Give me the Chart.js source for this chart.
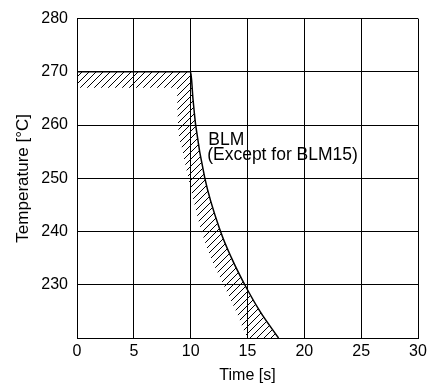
<!DOCTYPE html>
<html>
<head>
<meta charset="utf-8">
<script src="https://cdn.jsdelivr.net/npm/chart.js@4.4.1/dist/chart.umd.min.js"></script>
<style>
  html, body { margin: 0; padding: 0; background: #fff; }
  #wrap { width: 432px; height: 389px; }
</style>
</head>
<body>
<div id="wrap"><canvas id="tempChart"></canvas></div>
<script>
// BLM temperature profile
const curveTime = [0, 10, 10.2, 10.44, 11.25, 12.63, 13.6, 14.76, 16.1, 17.73];
const curveTemp = [270, 270, 265, 260, 250, 240, 235, 230, 225, 220];

// lower edge of the hatched band
const hatchTime = [0, 8.8, 8.85, 9.2, 9.8, 10.35, 10.96, 11.8, 12.9, 14.0, 15.2, 17.73];
const hatchTemp = [267, 267, 262, 256, 250, 245, 240, 235, 230, 225, 220, 220];

const xTicks = [0, 5, 10, 15, 20, 25, 30];
const yTicks = [230, 240, 250, 260, 270, 280];

const labelText = ['BLM', '(Except for BLM15)'];

function toPoints(xs, ys) {
	return xs.map((x, i) => ({ x: x, y: ys[i] }));
}

// diagonal hatch pattern "/"
function makeHatch() {
	const s = 7;
	const c = document.createElement('canvas');
	c.width = s;
	c.height = s;
	const g = c.getContext('2d');
	g.strokeStyle = '#000';
	g.lineWidth = 1;
	g.beginPath();
	g.moveTo(-1, s + 1);
	g.lineTo(s + 1, -1);
	g.moveTo(-2, 2);
	g.lineTo(2, -2);
	g.moveTo(s - 2, s + 2);
	g.lineTo(s + 2, s - 2);
	g.stroke();
	return g.createPattern(c, 'repeat');
}

const family = "'Liberation Sans', Arial, sans-serif";
const tickFont = { family: family, size: 16 };

const notes = {
	id: 'notes',
	afterDatasetsDraw(chart) {
		const ctx = chart.ctx;
		const xs = chart.scales.x, ys = chart.scales.y;
		ctx.save();
		ctx.fillStyle = '#000';
		ctx.font = '17.5px ' + family;
		ctx.textBaseline = 'middle';
		ctx.fillText(labelText[0], xs.getPixelForValue(11.55), ys.getPixelForValue(257.1));
		ctx.fillText(labelText[1], xs.getPixelForValue(11.45), ys.getPixelForValue(254.3));
		ctx.restore();
	}
};

const crt = document.getElementById('tempChart');
new Chart(crt, {
	type: 'line',
	data: {
		datasets: [{
			label: 'BLM',
			data: toPoints(curveTime, curveTemp),
			borderColor: '#000',
			borderWidth: 1.5,
			pointRadius: 0,
			cubicInterpolationMode: 'monotone',
			fill: false
		}, {
			label: 'band',
			data: toPoints(hatchTime, hatchTemp),
			borderWidth: 0,
			borderColor: 'rgba(0,0,0,0)',
			pointRadius: 0,
			cubicInterpolationMode: 'monotone',
			backgroundColor: makeHatch(),
			fill: { target: 0 }
		}]
	},
	options: {
		responsive: true,
		maintainAspectRatio: false,
		animation: false,
		layout: { padding: { top: 13, right: 14, left: 0, bottom: 0 } },
		plugins: {
			legend: { display: false },
			tooltip: { enabled: false }
		},
		scales: {
			x: {
				type: 'linear',
				min: 0,
				max: 30,
				afterFit: (s) => { s.height = 51; },
				afterBuildTicks: (s) => { s.ticks = xTicks.map(v => ({ value: v })); },
				grid: { color: '#000', lineWidth: 1, drawTicks: false },
				border: { color: '#000', width: 1 },
				ticks: { color: '#000', font: tickFont, padding: 4, maxRotation: 0 },
				title: { display: true, text: 'Time [s]', color: '#000', font: { family: family, size: 16 }, padding: { top: 0, bottom: 4 } }
			},
			y: {
				type: 'linear',
				min: 220,
				max: 280,
				afterFit: (s) => { s.width = 77; },
				afterBuildTicks: (s) => { s.ticks = [220].concat(yTicks).map(v => ({ value: v })); },
				grid: { color: '#000', lineWidth: 1, drawTicks: false },
				border: { color: '#000', width: 1 },
				ticks: {
					color: '#000',
					font: tickFont,
					padding: 9,
					callback: (v) => (v === 220 ? '' : v)
				},
				title: { display: true, text: 'Temperature [°C]', color: '#000', font: { family: family, size: 17 }, padding: { top: 13, bottom: 0 } }
			}
		}
	},
	plugins: [notes]
});
</script>
</body>
</html>
